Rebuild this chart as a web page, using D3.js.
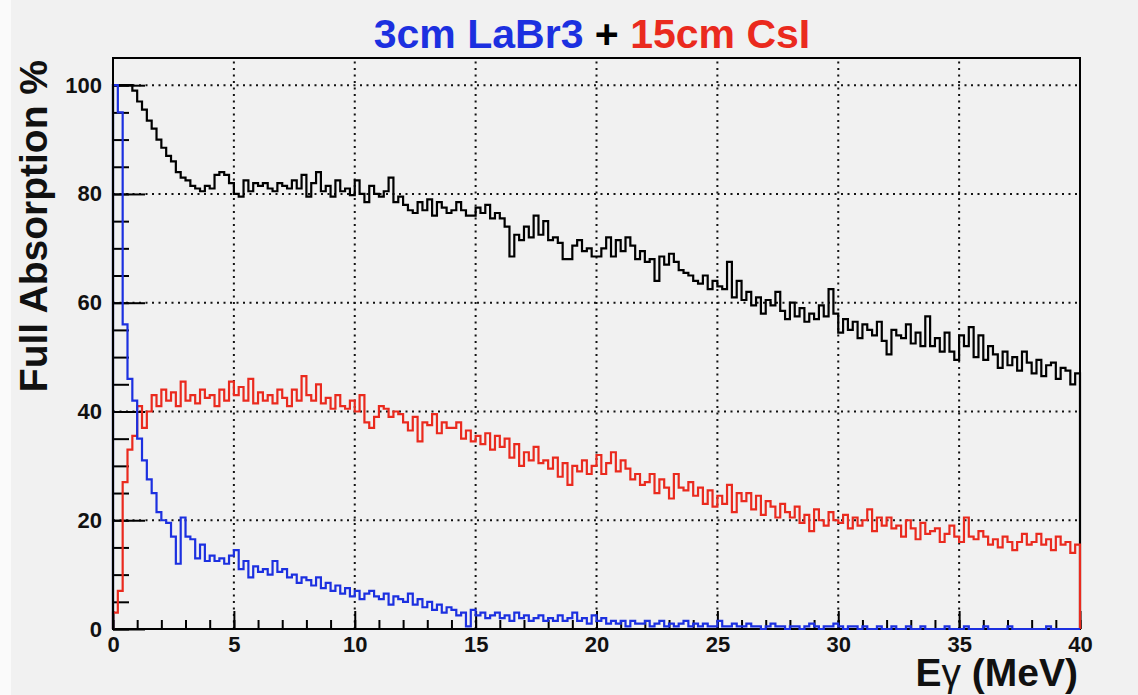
<!DOCTYPE html>
<html><head><meta charset="utf-8">
<script src="https://cdn.jsdelivr.net/npm/d3@7"></script>
<style>html,body{margin:0;padding:0;background:#f1f1f1;}svg{display:block;}</style>
</head><body>
<script>
// ---- data (bin contents, 0.2 MeV bins from 0 to 40 MeV) ----
const xRange = [0, 40];
const yRange = [0, 105];
const xMajorTicks = [0, 5, 10, 15, 20, 25, 30, 35, 40];
const yMajorTicks = [0, 20, 40, 60, 80, 100];
const xMinorTicks = d3.range(0, 41, 1);
const yMinorTicks = d3.range(0, 105, 5);

const titleParts = [
  {text: "3cm LaBr3", color: "#1c30e0"},
  {text: " + ", color: "#000000"},
  {text: "15cm CsI", color: "#ea2a1e"}
];
const yTitle = "Full Absorption %";

const totalVals = [
 100,100,100,100,99,97,95.5,93.5,92,90,
 88.5,87,86,84,83,82.5,81.5,81,80.5,81.5,
 81,83.5,84,83.5,82,80,79.5,82.5,80.5,82,
 81.5,82,81,80.5,82,81.5,81,82.5,81,83.5,
 79.5,82,84,80.5,81.5,79.5,82.5,80.5,81,79.8,
 82.5,80,78.5,81.5,80,79.5,80.5,83,78.5,79.5,
 78,77,76.5,78.5,77,79,76,78.5,77.5,76.5,
 77,78.5,77,76,76,77.5,76.5,78,75.5,76.5,
 75.5,74,68.5,72.5,71.5,74,72,76,72.5,75,
 71.5,72,71,68,68,70.5,71.5,69.5,70,68.5,
 68.5,70,72,68.5,71.5,69.5,72,70.5,68,69.5,
 67.5,68,64,68.5,67,69,67.5,66,65.5,65,
 64,63.5,65,62.5,64,63,62.5,67.5,61,64,
 60.5,62,59.5,61,58,60.5,59.5,62,58.5,57,
 60,57.5,59,56.5,58,57,59.5,57.5,62.5,58,
 54.5,57,55,56.5,53.5,56,55,54,56.5,53,
 50.5,55,54,53.5,56,52.5,54.5,52,57.5,52,
 53.5,51,54.5,51,49.5,54,52,55.5,50,54,
 49.5,52,50.5,48,51,48.5,50,47.5,51,49,
 47,49.5,46.5,48.5,49,46,48,47.5,45,47
];
const csiVals = [
 3,7,27,33,35.5,41,37,40,43,41,
 44,42,43.5,41,45.5,42,43,41.5,44,42.5,
 43,41,44,42,45.5,43,44.5,42,46,41.5,
 43.5,42,43,41.5,44,42.5,41,44,42,46.5,
 43,42,45,41.5,42.5,40.5,43,41,40.5,42,
 40,43,38,37,39,41,40.5,39,40,39.5,
 38,36.5,39,34.5,38,37.5,39.5,36,38,37,
 37,38,35,36.5,34.5,35.5,34,36,33,35.5,
 33.5,35,31.5,34,30,32.5,31,33.5,30.5,31,
 29.5,31.5,28,30.5,26.5,30,29,31,28.5,30,
 32,28.5,30.5,32.5,29,31,29.5,27.5,28.5,26.5,
 27,28.5,25,27.5,26,24,28.5,26,25.5,27,
 24.5,26,23,25.5,22.5,24.5,23,26.5,21.5,25,
 23.5,25,22,24.5,21,23.5,22.5,20.5,23,21.5,
 20.5,22.5,19.5,21,18,22,20,19,21.5,20,
 19.5,21,18.5,20.5,19,20,22,18,20.5,19,
 20.5,18.5,19,17,20,18.5,16.5,19.5,17.5,18,
 18.5,16,17.5,19,17,16,20.5,17,16.5,18,
 17,15.5,16.5,15,17,16,14.5,16,17.5,15.5,
 16,17.5,15.5,16.5,14.5,17,15.5,16,14,15.5
];
const labr3Vals = [
 100,95,56,46,42,35,31,27.5,25,21.5,
 20,19.5,17,12,20.5,17,16.5,13,15.5,12.5,
 13.5,12.5,13,12,13.5,14.5,11,12.5,9.5,11.5,
 10.5,11,10,12.5,10.5,11,9.5,10,8.5,9.5,
 9,8,9.5,7.5,8.5,7,8,6.5,7.5,6,
 7,5.5,6.5,7,6,5.5,6.5,4.5,6,5.5,
 5,6.5,4.5,5.5,4,5,3.5,4.5,3,4,
 3.5,2.5,3,0.5,3.5,2.5,3,2,2.5,3,
 2,2.5,1.5,3,2,2.5,1.5,2,2.5,1.5,
 2,1.5,2.5,1.5,2,3,1.5,2,1,2.5,
 1.5,2,1,1.5,1,1.5,0.5,1.5,1,1,
 1.5,0.5,1,1.5,0.5,1,0.5,1,1.5,0.5,
 1,0.5,1,0.5,0.5,1.5,0.5,0.5,1,0.5,
 0.5,1,0.5,0.5,0,0.5,1,0.5,0.5,0,
 0.5,0.5,0,0.5,1,0.5,0,0.5,0.5,1,
 0.5,0,0.5,0.5,0,0.5,0,0,0.5,0,
 0,0.5,0,0,0.5,0,0,0.5,0,0,
 0,0,0.5,0,0,0,0.5,0,0,0,
 0.5,0,0,0,0,0.5,0,0,0,0,
 0,0,0,0.5,0,0,0,0,0,0
];

const series = [
  {name: "total", values: totalVals, color: "#000000"},
  {name: "CsI", values: csiVals, color: "#ea2a1e"},
  {name: "LaBr3", values: labr3Vals, color: "#1c30e0"}
];

// ---- layout ----
const W = 1138, H = 695;
const M = {left: 113, right: 1080, top: 58, bottom: 629};
const FONT = "'Liberation Sans', Arial, Helvetica, sans-serif";

const svg = d3.select("body").append("svg").attr("width", W).attr("height", H);
svg.append("rect").attr("width", W).attr("height", H).attr("fill", "#f1f1f1");
svg.append("rect").attr("width", 11).attr("height", H).attr("fill", "#fafafa");

const x = d3.scaleLinear().domain(xRange).range([M.left, M.right]);
const y = d3.scaleLinear().domain(yRange).range([M.bottom, M.top]);

// grid (dotted)
const grid = svg.append("g").attr("stroke", "#111").attr("stroke-width", 2).attr("stroke-dasharray", "2,4.5");
grid.selectAll("line.gx").data(xMajorTicks.filter(d => d > xRange[0] && d < xRange[1])).join("line")
  .attr("x1", d => x(d)).attr("x2", d => x(d)).attr("y1", y(yRange[0])).attr("y2", y(yRange[1]));
grid.selectAll("line.gy").data(yMajorTicks.filter(d => d > 0)).join("line")
  .attr("y1", d => y(d)).attr("y2", d => y(d)).attr("x1", x(xRange[0])).attr("x2", x(xRange[1]));

// frame
svg.append("rect").attr("x", M.left).attr("y", M.top).attr("width", M.right - M.left).attr("height", M.bottom - M.top)
  .attr("fill", "none").attr("stroke", "#000").attr("stroke-width", 2);

// axes
const tickFont = g => g.selectAll("text").attr("font-family", FONT).attr("font-weight", "bold").attr("font-size", 22).attr("fill", "#111");

const xMinorAxis = d3.axisBottom(x).tickValues(xMinorTicks).tickSize(-9).tickFormat("");
const xAxis = d3.axisBottom(x).tickValues(xMajorTicks).tickSize(-18).tickPadding(7).tickFormat(d3.format("d"));
const yMinorAxis = d3.axisLeft(y).tickValues(yMinorTicks).tickSize(-16).tickFormat("");
const yAxis = d3.axisLeft(y).tickValues(yMajorTicks).tickSize(-32).tickPadding(11).tickFormat(d3.format("d"));

function styleAxis(g) {
  g.select(".domain").remove();
  g.selectAll("line").attr("stroke", "#000").attr("stroke-width", 2);
  tickFont(g);
}
svg.append("g").attr("transform", `translate(0,${M.bottom})`).call(xMinorAxis).call(styleAxis);
svg.append("g").attr("transform", `translate(0,${M.bottom})`).call(xAxis).call(styleAxis);
svg.append("g").attr("transform", `translate(${M.left},0)`).call(yMinorAxis).call(styleAxis);
svg.append("g").attr("transform", `translate(${M.left},0)`).call(yAxis).call(styleAxis);

// histograms (step outlines, ROOT style)
const line = d3.line().x(d => x(d[0])).y(d => y(d[1]));
series.forEach(s => {
  const n = s.values.length;
  const bw = (xRange[1] - xRange[0]) / n;
  const pts = [[xRange[0], 0]];
  s.values.forEach((v, i) => {
    pts.push([xRange[0] + i * bw, v]);
    pts.push([xRange[0] + (i + 1) * bw, v]);
  });
  pts.push([xRange[1], 0]);
  svg.append("path").attr("d", line(pts)).attr("fill", "none")
    .attr("stroke", s.color).attr("stroke-width", 2.2).attr("stroke-linejoin", "miter");
});

// left axis line redrawn on top
svg.append("line").attr("x1", M.left).attr("x2", M.left).attr("y1", M.top).attr("y2", M.bottom)
  .attr("stroke", "#000").attr("stroke-width", 2);

// title
const title = svg.append("text").attr("x", 592).attr("y", 48).attr("text-anchor", "middle")
  .attr("font-family", FONT).attr("font-weight", "bold").attr("font-size", 41).attr("style", "white-space:pre");
title.selectAll("tspan").data(titleParts).join("tspan").attr("fill", d => d.color).text(d => d.text);

// y title
svg.append("text").attr("transform", `translate(47,${M.top + 2}) rotate(-90)`).attr("text-anchor", "end")
  .attr("font-family", FONT).attr("font-weight", "bold").attr("font-size", 39).attr("fill", "#111")
  .text(yTitle);

// x title
const xt = svg.append("text").attr("x", 1078).attr("y", 686).attr("text-anchor", "end")
  .attr("font-family", FONT).attr("font-weight", "bold").attr("font-size", 39).attr("fill", "#111")
  .attr("style", "white-space:pre");
xt.append("tspan").text("E");
xt.append("tspan").attr("font-weight", "normal").text("γ");
xt.append("tspan").text(" (MeV)");
</script>
</body></html>
